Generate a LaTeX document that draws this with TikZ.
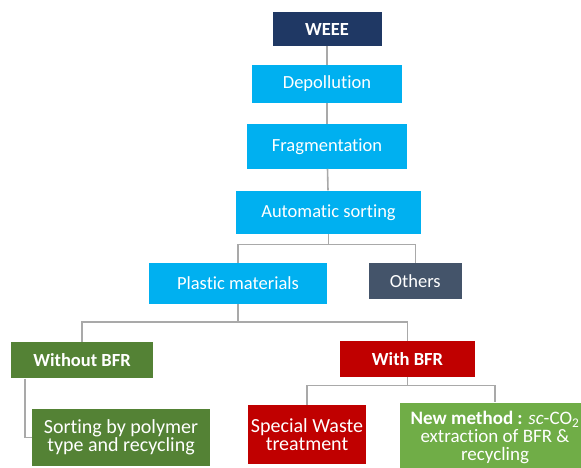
\documentclass[tikz,border=0pt]{standalone}
\usepackage{fontspec}
\setmainfont{Carlito}[Ligatures=NoCommon]
\usepackage{tikz}
\usetikzlibrary{positioning}

\definecolor{navy}{HTML}{1F3864}
\definecolor{skyblue}{HTML}{00B0F0}
\definecolor{slate}{HTML}{44546A}
\definecolor{darkgreen}{HTML}{548235}
\definecolor{lightgreen}{HTML}{70AD47}
\definecolor{darkred}{HTML}{C00000}
\definecolor{linegray}{HTML}{A9A9A9}

\begin{document}
\begin{tikzpicture}[x=1pt, y=1pt, node distance=20pt,
		box/.style={text=white, inner sep=0pt, align=center, font=\fontsize{18.5}{18.5}\selectfont},
		boldbox/.style={box, font=\fontsize{18.5}{18.5}\selectfont\bfseries},
		leafbox/.style={box, font=\fontsize{20}{18.4}\selectfont},
		link/.style={draw=linegray, line width=1.6pt}]
		\clip (0,0) rectangle (581,-467);

		\node[boldbox, fill=navy, minimum width=109pt, minimum height=33.5pt] (weee) at (327,-29) {WEEE};
		\node[box, fill=skyblue, minimum width=150.6pt, minimum height=38.4pt, below=18.6pt of weee] (depol) {Depollution};
		\node[box, fill=skyblue, minimum width=160pt, minimum height=44.4pt, below=20.6pt of depol] (frag) {Fragmentation};
		\node[box, fill=skyblue, minimum width=184.3pt, minimum height=43.4pt, below=21.6pt of frag, xshift=1.5pt] (auto) {Automatic sorting};
		\node[box, fill=skyblue, minimum width=177.4pt, minimum height=40.7pt] (plastic) at (238,-283.3) {Plastic materials};
		\node[box, fill=slate, minimum width=92.7pt, minimum height=36pt] (others) at (415.3,-281.3) {Others};
		\node[boldbox, fill=darkgreen, minimum width=141.7pt, minimum height=36pt] (without) at (82,-360.3) {Without BFR};
		\node[boldbox, fill=darkred, minimum width=134.7pt, minimum height=36pt] (with) at (407.5,-358.7) {With BFR};
		\node[leafbox, fill=darkgreen, minimum width=178pt, minimum height=57pt] (sorting) at (121,-437.5) {Sorting by polymer\\type and recycling};
		\node[leafbox, fill=darkred, minimum width=117.4pt, minimum height=59pt] (special) at (307,-434.5) {Special Waste\\treatment};
		\node[leafbox, fill=lightgreen, minimum width=190pt, minimum height=70pt, font=\fontsize{19}{18}\selectfont] (newmethod) at (495,-437.5) {{\bfseries New method :} \textit{sc}-CO\textsubscript{2}\\extraction of BFR \&\\recycling};

		\coordinate (j1) at (auto.south |- 0,-244.3);
		\coordinate (j2) at (plastic.south |- 0,-322);
		\coordinate (j3) at (with.south |- 0,-385.3);

		\draw[link] (weee) -- (depol);
		\draw[link] (depol) -- (frag);
		\draw[link] (frag) -- (auto);
		\draw[link] (auto) -- (j1) -| (plastic);
		\draw[link] (j1) -| (others);
		\draw[link] (plastic) -- (j2) -| (without);
		\draw[link] (j2) -| (with);
		\draw[link] (with) -- (j3) -| (special);
		\draw[link] (j3) -| (newmethod);
		\draw[link] ([xshift=-57pt]without.south) |- (sorting.west);
	\end{tikzpicture}
\end{document}
